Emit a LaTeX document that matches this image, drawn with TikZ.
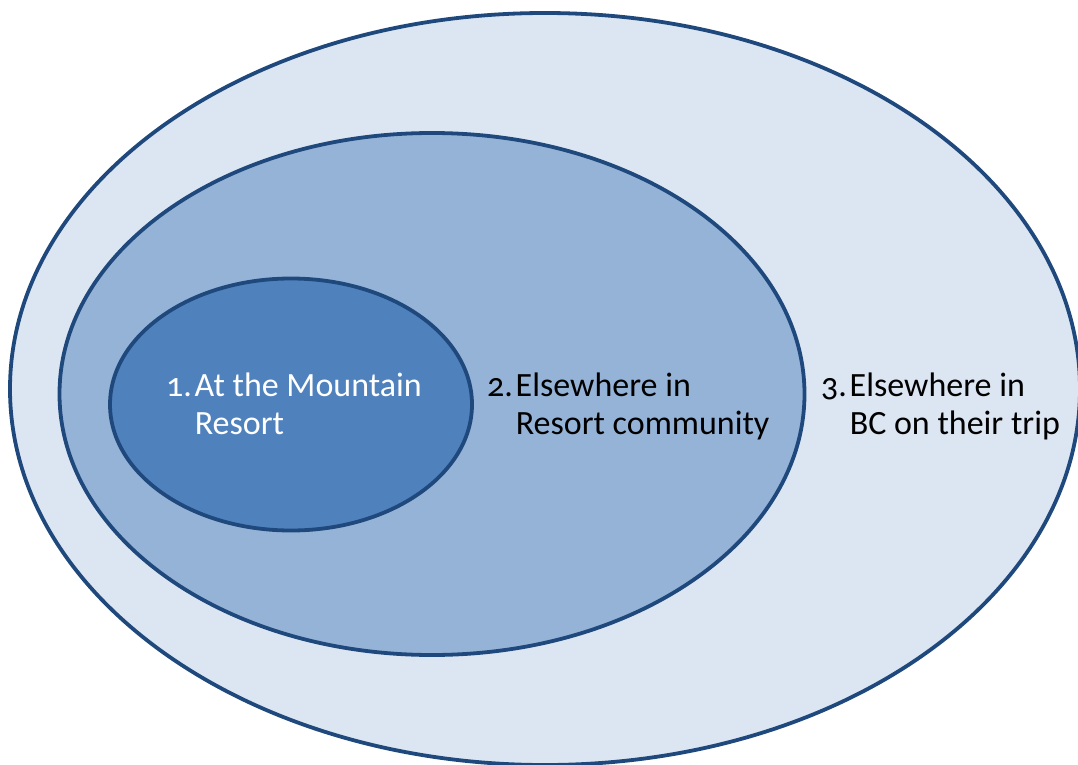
\documentclass[tikz,border=0pt]{standalone}
\usepackage{fontspec}
\setmainfont{Carlito}[Numbers=OldStyle]
\definecolor{zoneLine}{RGB}{31,73,125}
\definecolor{zoneDark}{RGB}{79,129,189}
\definecolor{zoneMid}{RGB}{149,179,215}
\definecolor{zoneLight}{RGB}{220,230,242}
\usepackage{tikz}
\usetikzlibrary{shapes.geometric}
\newcommand{\zonetext}[3]{\makebox[0.84em][l]{#1}#2\\\hspace*{0.84em}#3}

\begin{document}
\begin{tikzpicture}[x=1pt,y=-1pt,
    zone/.style={ellipse, draw=zoneLine, line width=3.8pt, inner sep=0pt},
    zonelabel/.style={anchor=base west, align=left, inner sep=0pt,
      font=\fontsize{34}{38}\selectfont}]
    \useasboundingbox (0,0) rectangle (1078,765);
    \node[zone, fill=zoneLight, minimum width=1070, minimum height=752] (z3) at (545,389) {};
    \node[zone, fill=zoneMid, minimum width=745, minimum height=522] (z2) at (432,394) {};
    \node[zone, fill=zoneDark, minimum width=362, minimum height=252] (z1) at (291,404.5) {};
    \node[zonelabel, text=white] (t1) at (166,434) {\zonetext{1.}{At the Mountain}{Resort}};
    \node[zonelabel] (t2) at (487,434) {\zonetext{2.}{Elsewhere in}{Resort community}};
    \node[zonelabel] (t3) at (821,434) {\zonetext{3.}{Elsewhere in}{BC on their trip}};
  \end{tikzpicture}
\end{document}
